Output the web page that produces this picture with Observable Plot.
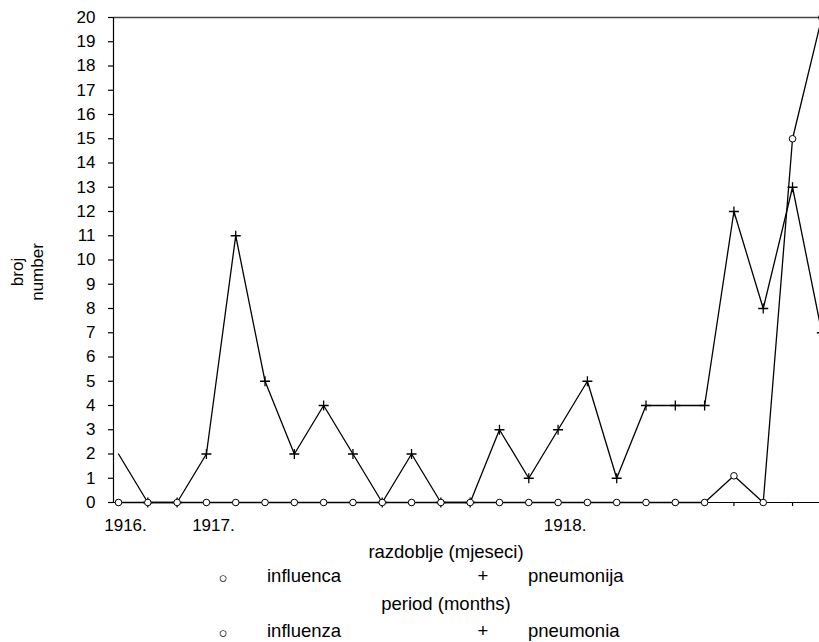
<!DOCTYPE html>
<html>
<head>
<meta charset="utf-8">
<script src="https://cdn.jsdelivr.net/npm/d3@7"></script>
<script src="https://cdn.jsdelivr.net/npm/@observablehq/plot@0.6"></script>
<style>
  body { margin: 0; background: #fff; }
  #wrap { position: relative; width: 819px; height: 642px; overflow: hidden; font-family: "Liberation Sans", Arial, Helvetica, sans-serif; color: #000; }
  #chart svg { display: block; }
  .t { position: absolute; font-size: 18.5px; line-height: 18px; white-space: pre; }
  .c { transform: translateX(-50%); }
  .s { position: absolute; font-size: 15px; line-height: 15px; transform: translateX(-50%); }
  #ylab { position: absolute; width: 120px; left: -32px; top: 252px; height: 40px; line-height: 20px; font-size: 17px; text-align: center; transform: rotate(-90deg); }
</style>
</head>
<body>
<div id="wrap">
  <div id="chart"></div>
  <div id="ylab">broj<br>number</div>
  <div class="t c" style="left:446px; top:543px">razdoblje (mjeseci)</div>
  <div class="s" style="left:223px; top:570px">○</div>
  <div class="t" style="left:267px; top:567px">influenca</div>
  <div class="t c" style="left:483px; top:567px">+</div>
  <div class="t" style="left:528px; top:567px">pneumonija</div>
  <div class="t c" style="left:446px; top:595px">period (months)</div>
  <div class="s" style="left:223px; top:625px">○</div>
  <div class="t" style="left:267px; top:622px">influenza</div>
  <div class="t c" style="left:483px; top:622px">+</div>
  <div class="t" style="left:528px; top:622px">pneumonia</div>
</div>
<script>
// month index (0 = first month shown, late 1916)
const monthIndex = [0,1,2,3,4,5,6,7,8,9,10,11,12,13,14,15,16,17,18,19,20,21,22,23,24];
const influenza  = [0,0,0,0,0,0,0,0,0,0,0,0,0,0,0,0,0,0,0,0,0,1.1,0,15,20];
const pneumonia  = [2,0,0,2,11,5,2,4,2,0,2,0,0,3,1,3,5,1,4,4,4,12,8,13,7];
const yearTickIndex = [0,3,15];
const yearTickLabels = ["1916.","1917.","1918."];
const yTicks = [0,1,2,3,4,5,6,7,8,9,10,11,12,13,14,15,16,17,18,19,20];
const xDomain = [-0.1706, 23.92];
const yDomain = [0, 20];

const rows = monthIndex.map((m, i) => ({m, inf: influenza[i], pne: pneumonia[i]}));
const yearLabelOf = new Map(yearTickIndex.map((m, i) => [m, yearTickLabels[i]]));

const thinPlus = {
  draw(ctx, size) {
    const r = Math.sqrt(size / Math.PI);
    ctx.moveTo(-r, 0); ctx.lineTo(r, 0);
    ctx.moveTo(0, -r); ctx.lineTo(0, r);
  }
};

const chart = Plot.plot({
  width: 819,
  height: 540,
  marginLeft: 113,
  marginRight: 0,
  marginTop: 17,
  marginBottom: 38,
  style: { fontFamily: '"Liberation Sans", Arial, Helvetica, sans-serif', fontSize: "17px", color: "#000", background: "#fff", overflow: "visible" },
  x: { type: "linear", domain: xDomain },
  y: { domain: yDomain },
  marks: [
    Plot.ruleY([yDomain[1]], { stroke: "#444", strokeWidth: 1.5 }),
    Plot.ruleY([yDomain[0]], { stroke: "#000", strokeWidth: 1.2 }),
    Plot.ruleX([xDomain[0]], { stroke: "#000", strokeWidth: 1.2 }),
    Plot.axisY({ ticks: yTicks, tickSize: 5, tickPadding: 13, tickFormat: d => String(d), label: null, strokeWidth: 1.2 }),
    Plot.axisX({ ticks: monthIndex, tickSize: 4, tickFormat: () => "", label: null, strokeWidth: 1.2 }),
    Plot.axisX({ ticks: yearTickIndex, tickSize: 0, tickPadding: 16, tickFormat: d => yearLabelOf.get(d), label: null, dx: 7 }),
    Plot.line(rows, { x: "m", y: "pne", stroke: "#000", strokeWidth: 1.3 }),
    Plot.dot(rows.filter(d => d.m > 0), { x: "m", y: "pne", symbol: thinPlus, r: 5, stroke: "#000", fill: "none", strokeWidth: 1.3 }),
    Plot.line(rows, { x: "m", y: "inf", stroke: "#000", strokeWidth: 1.3 }),
    Plot.dot(rows, { x: "m", y: "inf", r: 3.3, stroke: "#000", fill: "#fff", strokeWidth: 1 })
  ]
});
document.getElementById("chart").appendChild(chart);
</script>
</body>
</html>
